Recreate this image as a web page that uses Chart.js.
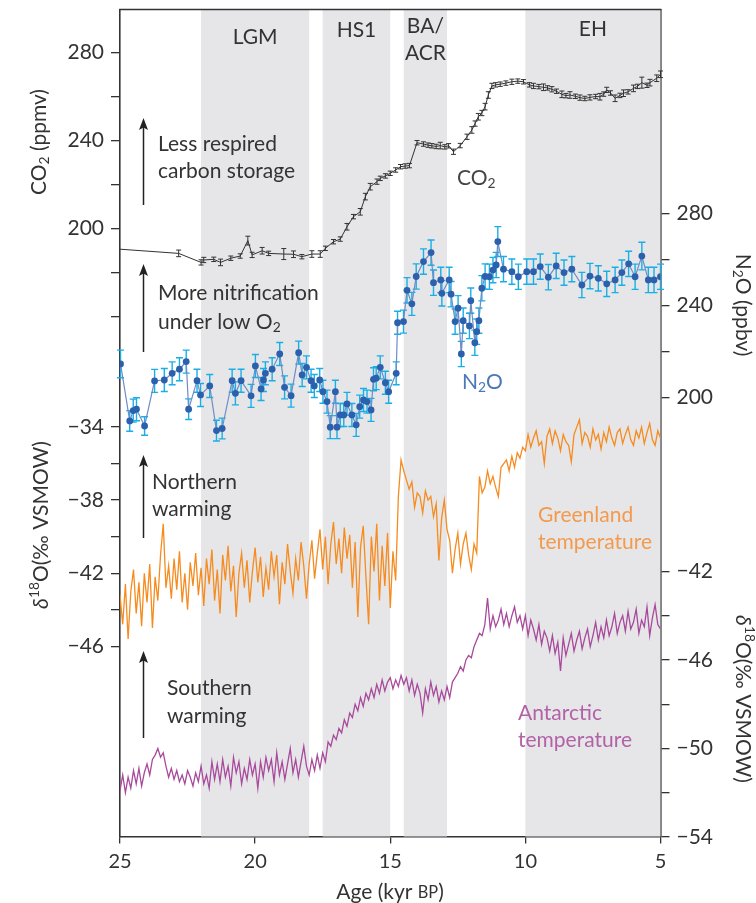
<!DOCTYPE html>
<html><head><meta charset="utf-8">
<script src="https://cdn.jsdelivr.net/npm/chart.js@4.4.1/dist/chart.umd.min.js"></script>
<style>html,body{margin:0;padding:0;background:#fff;}#wrap{width:756px;height:903px;position:relative}</style>
</head><body><div id="wrap"><canvas id="c" width="756" height="903"></canvas></div>
<script>
// ---------------- DATA ----------------
const co2Age = [25.00,22.83,22.00,21.90,21.53,21.28,20.90,20.55,20.27,20.11,19.74,19.50,18.94,18.58,18.27,17.90,17.59,17.40,17.10,16.85,16.60,16.36,16.11,15.92,15.74,15.49,15.37,15.18,15.00,14.80,14.62,14.45,14.29,14.01,13.77,13.60,13.46,13.30,13.15,12.98,12.84,12.66,12.41,12.16,11.98,11.86,11.74,11.61,11.49,11.37,11.24,11.10,10.93,10.72,10.50,10.28,10.07,9.85,9.70,9.50,9.33,9.18,9.02,8.85,8.65,8.50,8.35,8.15,7.98,7.80,7.61,7.40,7.24,7.10,6.99,6.85,6.68,6.50,6.37,6.20,6.00,5.85,5.69,5.50,5.39,5.14,5.00];
const co2Val = [190.5,188.6,184.5,185.6,185.9,184.5,186.4,187.4,194.4,187.9,189.8,188.6,188.3,188.2,187.1,188.3,188.3,190.9,193.9,195.1,200.7,205.3,207.5,214.4,218.9,221.2,222.7,223.8,225.0,226.5,228.0,228.3,228.5,238.9,238.3,237.8,237.5,237.2,237.6,237.0,237.5,234.8,237.6,241.6,244.7,247.6,250.7,252.4,255.3,260.6,264.7,265.2,265.5,266.0,266.6,266.9,266.6,265.2,264.7,264.4,264.1,263.8,263.2,262.3,260.9,260.3,260.6,260.0,259.4,259.0,259.5,259.9,259.8,261.0,262.9,261.5,259.1,260.4,261.4,262.0,263.6,264.5,266.2,265.0,266.2,268.2,270.0];
const co2Err = [0,1.5,1.2,1.2,1.0,1.5,1.0,1.0,2.0,1.2,1.5,1.0,2.5,1.5,1.0,1.5,1.5,1.0,1.0,1.0,1.5,1.0,1.5,1.5,1.5,1.2,1.0,1.0,1.0,1.0,1.0,1.0,1.0,1.0,1.0,1.0,1.0,1.0,1.5,1.0,1.0,1.2,1.0,1.2,1.5,1.2,1.5,1.2,1.5,1.5,1.2,1.0,1.0,1.0,1.2,1.0,1.0,1.0,1.2,1.0,1.5,1.0,1.2,1.0,1.5,1.0,1.5,1.0,1.2,1.0,1.2,1.0,1.5,1.0,1.2,1.0,1.5,1.0,1.5,1.0,1.5,1.0,2.5,1.0,1.5,1.5,1.5];

const n2oAge = [24.98,24.64,24.51,24.39,24.09,23.72,23.36,23.07,22.80,22.55,22.46,22.15,22.02,21.68,21.43,21.22,20.85,20.73,20.52,20.15,19.99,19.78,19.69,19.62,19.37,19.09,18.91,18.67,18.39,18.26,18.10,17.93,17.81,17.61,17.49,17.34,17.22,17.03,16.97,16.85,16.72,16.60,16.42,16.26,16.13,15.99,15.86,15.71,15.62,15.52,15.37,15.18,15.06,14.78,14.73,14.51,14.38,14.20,14.04,13.77,13.49,13.40,13.13,13.09,12.82,12.75,12.60,12.49,12.37,12.30,12.07,12.02,11.87,11.80,11.72,11.61,11.49,11.33,11.20,11.08,11.02,10.81,10.50,10.26,9.95,9.70,9.45,9.15,8.86,8.57,8.28,7.91,7.61,7.30,6.99,6.68,6.43,6.18,5.94,5.69,5.45,5.24,5.00];
const n2oVal = [214.5,189.7,194.2,194.8,187.5,207.1,207.5,210.4,212.2,215.5,194.8,207.2,201.0,204.9,185.5,186.4,207.2,201.7,207.2,200.6,213.6,203.6,207.5,210.4,212.2,218.8,204.3,200.7,219.4,209.7,213.0,207.2,204.9,207.5,202.4,198.1,187.0,202.4,187.0,192.3,192.3,197.1,192.3,188.0,195.9,198.8,198.1,194.5,207.8,208.3,213.0,206.3,202.4,210.4,232.4,232.9,246.5,240.6,252.5,259.0,262.9,249.8,251.0,245.2,251.0,244.8,232.9,238.7,218.8,233.3,231.0,242.0,223.7,228.5,233.3,247.4,252.5,252.4,255.3,257.5,267.7,255.7,254.6,252.4,254.6,254.6,256.8,252.2,257.1,254.2,255.7,248.8,252.7,251.7,249.3,251.0,254.2,258.0,252.4,261.4,251.0,251.0,252.4];
const n2oErr = [6,4.5,5,5,4,5,5,5,5,5,4.5,5,5,5,4.5,4.5,5,5,5,5,5,5,5,5,5,5,5,5,5,5,5,5,5,5,5,5,5,5,5,5,5,5,5,5,5,5,5,5,5,5,5,5,5,5,5,5,5.5,5,5.5,5.5,5.5,5.5,5.5,5.5,5.5,5.5,5.5,5.5,5.5,5.5,5.5,5.5,5.5,5.5,5.5,5.5,5.5,5.5,5.5,5.5,6.5,5.5,5.5,5.5,5.5,5.5,5.5,5.5,5.5,5.5,5.5,5.5,5.5,5.5,5.5,5.5,5.5,5.5,5.5,6,5.5,5.5,5.5];

const isoAge = [
25.0,24.9,24.8,24.7,24.6,24.5,24.4,24.3,24.2,24.1,
24.0,23.9,23.8,23.7,23.6,23.5,23.4,23.3,23.2,23.1,
23.0,22.9,22.8,22.7,22.6,22.5,22.4,22.3,22.2,22.1,
22.0,21.9,21.8,21.7,21.6,21.5,21.4,21.3,21.2,21.1,
21.0,20.9,20.8,20.7,20.6,20.5,20.4,20.3,20.2,20.1,
20.0,19.9,19.8,19.7,19.6,19.5,19.4,19.3,19.2,19.1,
19.0,18.9,18.8,18.7,18.6,18.5,18.4,18.3,18.2,18.1,
18.0,17.9,17.8,17.7,17.6,17.5,17.4,17.3,17.2,17.1,
17.0,16.9,16.8,16.7,16.6,16.5,16.4,16.3,16.2,16.1,
16.0,15.9,15.8,15.7,15.6,15.5,15.4,15.3,15.2,15.1,
15.0,14.9,14.8,14.7,14.6,14.5,14.4,14.3,14.2,14.1,
14.0,13.9,13.8,13.7,13.6,13.5,13.4,13.3,13.2,13.1,
13.0,12.9,12.8,12.7,12.6,12.5,12.4,12.3,12.2,12.1,
12.0,11.9,11.8,11.7,11.6,11.5,11.4,11.3,11.2,11.1,
11.0,10.9,10.8,10.7,10.6,10.5,10.4,10.3,10.2,10.1,
10.0,9.9,9.8,9.7,9.6,9.5,9.4,9.3,9.2,9.1,
9.0,8.9,8.8,8.7,8.6,8.5,8.4,8.3,8.2,8.1,
8.0,7.9,7.8,7.7,7.6,7.5,7.4,7.3,7.2,7.1,
7.0,6.9,6.8,6.7,6.6,6.5,6.4,6.3,6.2,6.1,
6.0,5.9,5.8,5.7,5.6,5.5,5.4,5.3,5.2,5.1,
5.0];
const greenland = [
-43.2,-44.8,-42.6,-45.6,-43.0,-41.8,-44.2,-42.5,-44.9,-42.0,
-43.6,-41.5,-45.0,-42.2,-43.5,-41.0,-39.3,-42.8,-41.6,-43.4,
-41.2,-42.9,-40.8,-43.6,-42.0,-44.0,-41.4,-42.7,-40.9,-43.2,
-41.7,-43.8,-41.2,-42.6,-40.7,-43.5,-41.8,-44.2,-41.0,-42.4,
-40.5,-43.0,-41.6,-44.4,-42.0,-40.9,-42.8,-41.3,-43.6,-41.9,
-40.6,-42.5,-41.1,-43.3,-41.7,-42.9,-40.8,-42.2,-41.0,-43.7,
-41.4,-42.6,-40.4,-41.9,-43.1,-41.2,-42.4,-40.3,-41.6,-43.4,
-41.5,-40.2,-42.3,-40.9,-39.6,-41.8,-40.0,-42.6,-40.4,-39.2,
-41.5,-40.1,-42.0,-39.5,-41.2,-39.9,-42.8,-40.3,-44.4,-40.6,
-39.4,-42.2,-44.8,-40.0,-41.9,-39.3,-43.5,-40.5,-42.7,-39.8,
-43.9,-40.8,-42.4,-37.8,-35.8,-36.4,-36.9,-37.4,-37.0,-38.4,
-37.6,-37.8,-38.7,-37.5,-38.0,-37.8,-38.9,-38.2,-41.3,-39.0,
-38.0,-39.6,-40.2,-42.0,-40.7,-39.8,-41.5,-40.4,-39.8,-41.0,
-41.8,-40.4,-40.9,-36.7,-37.6,-37.3,-36.4,-37.1,-36.7,-37.3,
-37.8,-36.2,-36.0,-35.8,-36.4,-35.6,-36.2,-35.4,-35.7,-35.1,
-35.3,-34.4,-35.1,-34.6,-34.2,-35.0,-34.8,-36.0,-34.5,-34.1,
-34.9,-34.2,-34.6,-35.3,-34.4,-34.8,-35.0,-35.9,-34.4,-34.0,
-33.6,-34.9,-34.3,-34.5,-35.1,-34.1,-34.7,-34.4,-35.2,-34.3,
-34.8,-34.0,-34.6,-35.0,-34.3,-34.1,-34.9,-34.4,-34.0,-34.7,
-35.0,-34.2,-34.6,-34.0,-34.9,-34.3,-33.8,-34.7,-35.0,-34.2,
-34.6];
const antarctic = [
-51.9,-51.2,-52.0,-51.3,-51.8,-51.0,-51.6,-50.9,-51.7,-51.1,
-50.7,-51.2,-50.5,-50.3,-50.0,-50.4,-50.2,-50.8,-51.3,-50.9,
-51.4,-51.0,-51.5,-51.2,-51.6,-51.0,-51.3,-51.7,-51.1,-51.5,
-50.8,-51.6,-51.2,-51.8,-50.6,-51.4,-50.7,-51.5,-50.5,-51.3,
-50.8,-51.7,-50.4,-51.1,-50.6,-51.6,-50.9,-51.4,-50.5,-51.2,
-50.7,-51.8,-50.6,-51.3,-50.4,-51.0,-50.5,-51.5,-50.2,-51.2,
-50.6,-51.4,-50.7,-50.0,-51.1,-50.5,-51.3,-50.6,-49.9,-50.8,
-51.2,-50.5,-51.0,-50.3,-50.9,-50.2,-50.6,-49.7,-49.9,-49.4,
-49.6,-49.1,-49.3,-48.7,-49.0,-48.4,-48.6,-48.0,-48.3,-47.7,
-48.1,-47.5,-47.8,-47.3,-47.7,-47.1,-47.5,-46.9,-47.4,-47.0,
-46.8,-47.3,-46.9,-47.2,-46.7,-47.1,-46.8,-47.4,-46.9,-47.6,
-47.1,-47.5,-48.4,-47.3,-47.8,-47.0,-47.6,-47.2,-47.9,-47.4,
-47.8,-47.2,-47.7,-47.0,-46.8,-46.6,-46.3,-46.5,-46.0,-45.8,
-45.9,-45.4,-45.1,-44.8,-44.9,-44.4,-43.2,-44.6,-44.0,-44.5,
-44.2,-43.7,-44.4,-43.9,-44.5,-44.0,-43.6,-44.3,-44.0,-44.6,
-44.0,-44.9,-44.2,-44.6,-45.1,-44.4,-45.3,-44.7,-45.0,-45.6,
-44.9,-45.7,-45.2,-46.5,-45.0,-45.8,-45.3,-44.8,-45.6,-45.1,
-44.7,-45.5,-45.0,-44.6,-45.4,-44.9,-44.3,-45.1,-44.5,-45.0,
-44.2,-44.9,-44.5,-43.9,-44.8,-44.3,-44.0,-44.7,-43.8,-44.6,
-44.3,-43.7,-44.8,-44.2,-44.5,-43.6,-44.9,-44.1,-43.5,-44.4,
-44.6];

const xTicks = [25,20,15,10,5];
const co2Ticks = [160,180,200,220,240,260,280];
const co2Labeled = [200,240,280];
const n2oTicks = [200,220,240,260,280];
const n2oLabeled = [200,240,280];
const grnTicks = [-34,-36,-38,-40,-42,-44,-46];
const grnLabeled = [-34,-38,-42,-46];
const antTicks = [-42,-44,-46,-48,-50,-52,-54];
const antLabeled = [-42,-46,-50,-54];

const bandNames = ['LGM','HS1','BA/ACR','EH'];
const bandStart = [22,17.5,14.5,10];
const bandEnd = [18,15,12.9,5];

// ---------------- LAYOUT / STYLE ----------------
const FONT = 'Lato, "Open Sans", sans-serif';
const TXT = '#333';
const R = {yC:[-76.45,299.45], yN:[9.0,368.6], yG:[-56.42,-11.13], yA:[-53.98,-16.60]};

function fmt(v){ return v<0 ? '\u2212'+Math.abs(v) : String(v); }
function hostTicks(vals, labeled, own, host){
  return vals.map(v=>({value: host[0] + (v-own[0])/(own[1]-own[0])*(host[1]-host[0]), lbl: labeled.includes(v)?fmt(v):''}));
}
function pts(ax, ay){ return ax.map((a,i)=>({x:a,y:ay[i]})); }

function rich(ctx, segs, x, y, align, size, color){
  ctx.fillStyle = color; ctx.textBaseline = 'middle'; ctx.textAlign = 'left';
  const parts = segs.map(s=>{
    const sz = (s.sub||s.sup) ? size*0.66 : (s.sc ? size*0.78 : size);
    const f = (s.it?'italic ':'') + sz + 'px ' + FONT;
    ctx.font = f;
    return {t:s.t, f, w:ctx.measureText(s.t).width, dy: s.sub ? size*0.28 : (s.sup ? -size*0.3 : (s.sc? size*0.05:0))};
  });
  const W = parts.reduce((a,p)=>a+p.w,0);
  let cx = align==='center' ? x-W/2 : (align==='right' ? x-W : x);
  parts.forEach(p=>{ ctx.font=p.f; ctx.fillText(p.t, cx, y+p.dy); cx += p.w; });
}
function arrow(ctx, x, yTop, yBot){
  ctx.strokeStyle='#222'; ctx.fillStyle='#222'; ctx.lineWidth=1.5;
  ctx.beginPath(); ctx.moveTo(x,yBot); ctx.lineTo(x,yTop+8); ctx.stroke();
  ctx.beginPath(); ctx.moveTo(x,yTop); ctx.lineTo(x-4.5,yTop+12); ctx.lineTo(x,yTop+9.5); ctx.lineTo(x+4.5,yTop+12); ctx.closePath(); ctx.fill();
}
function errBars(ctx, xs, ys, ages, vals, errs, color, lw, cap){
  ctx.strokeStyle=color; ctx.lineWidth=lw;
  ages.forEach((a,i)=>{
    if(!errs[i]) return;
    const px = xs.getPixelForValue(a), y0 = ys.getPixelForValue(vals[i]-errs[i]), y1 = ys.getPixelForValue(vals[i]+errs[i]);
    ctx.beginPath();
    ctx.moveTo(px,y0); ctx.lineTo(px,y1);
    ctx.moveTo(px-cap,y0); ctx.lineTo(px+cap,y0);
    ctx.moveTo(px-cap,y1); ctx.lineTo(px+cap,y1);
    ctx.stroke();
  });
}

const bandLabelPos = [[{t:'LGM',y:37}],[{t:'HS1',y:30}],[{t:'BA/',y:26},{t:'ACR',y:53}],[{t:'EH',y:29}]];
const notes = [
  {x:158,y:144,segs:[{t:'Less respired'}],c:TXT},
  {x:158,y:171,segs:[{t:'carbon storage'}],c:TXT},
  {x:158,y:293,segs:[{t:'More nitrification'}],c:TXT},
  {x:158,y:322,segs:[{t:'under low O'},{t:'2',sub:true}],c:TXT},
  {x:152,y:482,segs:[{t:'Northern'}],c:TXT},
  {x:152,y:509,segs:[{t:'warming'}],c:TXT},
  {x:167,y:688,segs:[{t:'Southern'}],c:TXT},
  {x:167,y:716,segs:[{t:'warming'}],c:TXT},
  {x:457,y:178,segs:[{t:'CO'},{t:'2',sub:true}],c:'#444'},
  {x:462,y:382,segs:[{t:'N'},{t:'2',sub:true},{t:'O'}],c:'#4a78b8'},
  {x:538,y:515,segs:[{t:'Greenland'}],c:'#f39a4c'},
  {x:538,y:542,segs:[{t:'temperature'}],c:'#f39a4c'},
  {x:518,y:713,segs:[{t:'Antarctic'}],c:'#b262a6'},
  {x:518,y:740,segs:[{t:'temperature'}],c:'#b262a6'}
];
const arrows = [[143.5,118,205],[143.5,264,352],[143.5,455,538],[143.5,651,738]];

const overlay = {
  id:'overlay',
  beforeDatasetsDraw(chart){
    const {ctx, chartArea:a, scales} = chart; const xs = scales.x;
    ctx.save();
    ctx.fillStyle = '#e6e6e8';
    bandStart.forEach((s,i)=>{
      const x0 = xs.getPixelForValue(s), x1 = xs.getPixelForValue(bandEnd[i]);
      ctx.fillRect(Math.min(x0,x1), a.top, Math.abs(x1-x0), a.bottom-a.top);
    });
    errBars(ctx, xs, scales.yN, n2oAge, n2oVal, n2oErr, '#1aaee6', 1.4, 3.5);
    errBars(ctx, xs, scales.yC, co2Age, co2Val, co2Err, '#333', 1, 2.5);
    ctx.restore();
  },
  afterDraw(chart){
    const {ctx, chartArea:a, scales} = chart; const xs = scales.x;
    ctx.save();
    ctx.strokeStyle='#333'; ctx.lineWidth=1.6;
    ctx.beginPath(); ctx.moveTo(a.left-0.8,a.top); ctx.lineTo(a.right+0.8,a.top); ctx.stroke();
    bandStart.forEach((s,i)=>{
      const cx = (xs.getPixelForValue(s)+xs.getPixelForValue(bandEnd[i]))/2;
      bandLabelPos[i].forEach(l=>rich(ctx,[{t:l.t}],cx,l.y,'center',21,TXT));
    });
    arrows.forEach(r=>arrow(ctx,r[0],r[1],r[2]));
    notes.forEach(n=>rich(ctx,n.segs,n.x,n.y,'left',21,n.c));
    const t1 = [{t:'CO'},{t:'2',sub:true},{t:' (ppmv)'}];
    const t2 = [{t:'δ',it:true},{t:'18',sup:true},{t:'O(‰ VSMOW)'}];
    const t3 = [{t:'N'},{t:'2',sub:true},{t:'O (ppbv)'}];
    [[39,142,-1,t1],[41,525,-1,t2],[743,305,1,t3],[743,699,1,t2]].forEach(([x,y,d,s])=>{
      ctx.save(); ctx.translate(x,y); ctx.rotate(d*Math.PI/2); rich(ctx,s,0,0,'center',21,TXT); ctx.restore();
    });
    rich(ctx,[{t:'Age (kyr '},{t:'BP',sc:true},{t:')'}],390,892,'center',21,TXT);
    ctx.restore();
  }
};

const tickFont = {family:FONT, size:21};
const gridCfg = {drawOnChartArea:false, drawTicks:true, tickLength:9, color:'#333', lineWidth:1.3};
const borderCfg = {display:true, color:'#333', width:1.6};

new Chart(document.getElementById('c'), {
  type:'line',
  data:{datasets:[
    {data:pts(co2Age,co2Val), yAxisID:'yC', borderColor:'#333', borderWidth:1, pointRadius:0, tension:0},
    {data:pts(n2oAge,n2oVal), yAxisID:'yN', borderColor:'#6f8cc4', borderWidth:1.2, pointRadius:3.4, pointBackgroundColor:'#2c60ad', pointBorderWidth:0, tension:0},
    {data:pts(isoAge,greenland), yAxisID:'yG', borderColor:'#f68b1f', borderWidth:1.3, pointRadius:0, tension:0},
    {data:pts(isoAge,antarctic), yAxisID:'yA', borderColor:'#a84a9c', borderWidth:1.3, pointRadius:0, tension:0}
  ]},
  options:{
    responsive:false, animation:false, devicePixelRatio:1,
    layout:{padding:{top:9.5,left:0,right:0,bottom:0}},
    plugins:{legend:{display:false}, tooltip:{enabled:false}},
    scales:{
      x:{type:'linear', position:'bottom', min:5, max:25, reverse:true, bounds:'data',
        afterBuildTicks:s=>{ s.ticks = xTicks.map(v=>({value:v})); },
        afterFit:s=>{ s.height=66.5; s.paddingLeft=0; s.paddingRight=0; s.paddingTop=0; s.paddingBottom=0; },
        ticks:{autoSkip:false, maxRotation:0, font:{family:FONT,size:20}, color:TXT, padding:6},
        grid:{drawOnChartArea:false, drawTicks:true, tickLength:7, color:'#333', lineWidth:1.3},
        border:borderCfg},
      yC:{type:'linear', position:'left', min:R.yC[0], max:R.yC[1], bounds:'data',
        afterBuildTicks:s=>{ s.ticks = hostTicks(co2Ticks,co2Labeled,R.yC,R.yC).concat(hostTicks(grnTicks,grnLabeled,R.yG,R.yC)); },
        afterFit:s=>{ s.width=120; s.paddingTop=0; s.paddingBottom=0; },
        ticks:{autoSkip:false, font:tickFont, color:TXT, padding:7, callback:(v,i,t)=>t[i].lbl},
        grid:gridCfg, border:borderCfg},
      yN:{type:'linear', position:'right', min:R.yN[0], max:R.yN[1], bounds:'data',
        afterBuildTicks:s=>{ s.ticks = hostTicks(n2oTicks,n2oLabeled,R.yN,R.yN).concat(hostTicks(antTicks,antLabeled,R.yA,R.yN)); },
        afterFit:s=>{ s.width=95.5; s.paddingTop=0; s.paddingBottom=0; },
        ticks:{autoSkip:false, font:tickFont, color:TXT, padding:7, callback:(v,i,t)=>t[i].lbl},
        grid:gridCfg, border:borderCfg},
      yG:{type:'linear', display:false, min:R.yG[0], max:R.yG[1], bounds:'data'},
      yA:{type:'linear', display:false, min:R.yA[0], max:R.yA[1], bounds:'data'}
    }
  },
  plugins:[overlay]
});
</script></body></html>
